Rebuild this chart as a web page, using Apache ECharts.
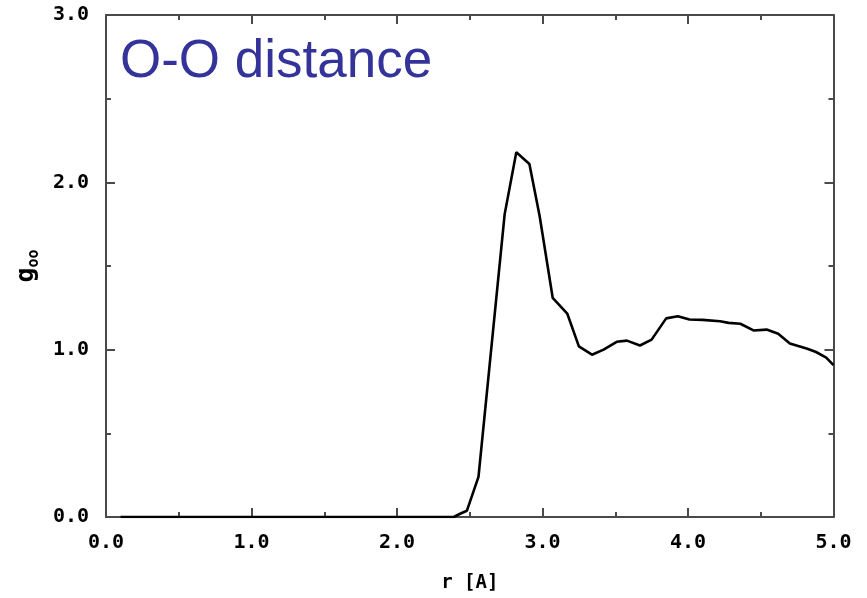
<!DOCTYPE html>
<html>
<head>
<meta charset="utf-8">
<script src="https://cdn.jsdelivr.net/npm/echarts@6/dist/echarts.min.js"></script>
<style>html,body{margin:0;padding:0;background:#fff;overflow:hidden}#c{width:867px;height:598px}</style>
</head>
<body>
<div id="c"></div>
<script>
const titleText = 'O-O distance';
const xName = 'r [A]';
const rValues = [0.1, 2.39, 2.43, 2.48, 2.56, 2.74, 2.82, 2.91, 2.98, 3.07, 3.17, 3.25, 3.34, 3.42, 3.51, 3.58, 3.67, 3.75, 3.85, 3.93, 4.01, 4.1, 4.22, 4.28, 4.36, 4.45, 4.54, 4.62, 4.70, 4.82, 4.88, 4.95, 5.00];
const gValues = [0.0, 0.0, 0.018, 0.037, 0.24, 1.81, 2.18, 2.11, 1.80, 1.31, 1.216, 1.02, 0.97, 1.00, 1.047, 1.054, 1.025, 1.06, 1.187, 1.20, 1.18, 1.178, 1.17, 1.16, 1.155, 1.115, 1.12, 1.095, 1.037, 1.006, 0.986, 0.953, 0.908];
const xTicks = [0, 1, 2, 3, 4, 5];
const yTicks = [0, 1, 2, 3];

const data = rValues.map((r, i) => [r, gValues[i]]);
const monoFont = '"DejaVu Sans Mono", "Liberation Mono", monospace';
const axisCol = '#4a4a4a';

function baseX(show) {
  return {
    type: 'value', min: 0, max: 5, interval: 1,
    axisLine: { show: true, onZero: false, lineStyle: { color: axisCol, width: 2 } },
    axisTick: { show: true, inside: true, length: 9, lineStyle: { color: axisCol, width: 2 } },
    minorTick: { show: true, splitNumber: 2, length: 5, lineStyle: { color: axisCol, width: 2 } },
    splitLine: { show: false },
    axisLabel: { show: show, margin: 16, color: '#000', fontFamily: monoFont, fontWeight: 'bold', fontSize: 20,
      formatter: v => xTicks.includes(v) ? v.toFixed(1) : '' }
  };
}
function baseY(show) {
  return {
    type: 'value', min: 0, max: 3, interval: 1,
    axisLine: { show: true, onZero: false, lineStyle: { color: axisCol, width: 2 } },
    axisTick: { show: true, inside: true, length: 9, lineStyle: { color: axisCol, width: 2 } },
    minorTick: { show: true, splitNumber: 2, length: 5, lineStyle: { color: axisCol, width: 2 } },
    splitLine: { show: false },
    axisLabel: { show: show, margin: 17, color: '#000', fontFamily: monoFont, fontWeight: 'bold', fontSize: 20,
      formatter: v => yTicks.includes(v) ? v.toFixed(1) : '' }
  };
}

const chart = echarts.init(document.getElementById('c'), null, { renderer: 'canvas' });
const x0 = baseX(true);
x0.name = xName;
x0.nameLocation = 'middle';
x0.nameGap = 57;
x0.nameTextStyle = { color: '#000', fontFamily: monoFont, fontWeight: 'bold', fontSize: 19 };
const x1 = baseX(false); x1.position = 'top';
const y0 = baseY(true);
y0.name = 'g{sub|oo}';
y0.nameLocation = 'middle';
y0.nameRotate = 90;
y0.nameGap = 58;
y0.nameTextStyle = { color: '#000', fontFamily: monoFont, fontWeight: 'bold', fontSize: 25,
  rich: { sub: { fontFamily: monoFont, fontWeight: 'bold', fontSize: 15, verticalAlign: 'bottom', padding: [16, 0, 0, 0] } } };
const y1 = baseY(false); y1.position = 'right';

chart.setOption({
  animation: false,
  backgroundColor: '#fff',
  title: { text: titleText, left: 120, top: 36, padding: 0,
    textStyle: { color: '#333399', fontFamily: '"Liberation Sans", Arial, sans-serif', fontWeight: 'normal', fontSize: 53, lineHeight: 53 } },
  grid: { left: 106, right: 33.5, top: 15, bottom: 70, containLabel: false },
  xAxis: [x0, x1],
  yAxis: [y0, y1],
  series: [{
    type: 'line', data: data, xAxisIndex: 0, yAxisIndex: 0,
    showSymbol: false, symbol: 'none', smooth: false,
    lineStyle: { color: '#000', width: 2.6 }
  }]
});
</script>
</body>
</html>
